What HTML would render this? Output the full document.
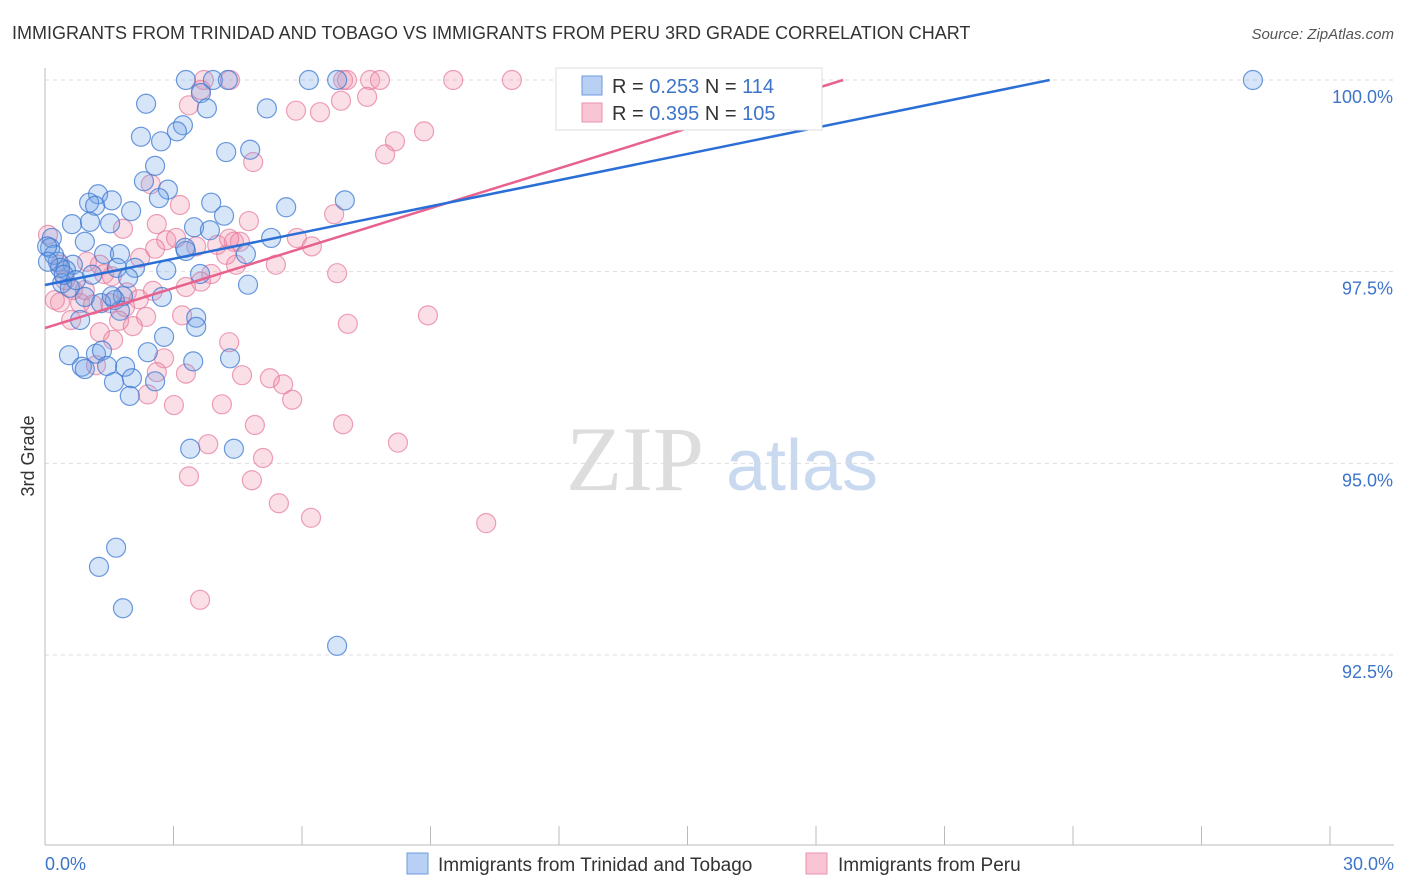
<!DOCTYPE html>
<html><head><meta charset="utf-8"><style>
body{margin:0;background:#fff;font-family:"Liberation Sans",sans-serif}
svg{display:block}
</style></head><body>
<svg id="chart" width="1406" height="892" xmlns="http://www.w3.org/2000/svg">
<text x="12" y="39" font-size="18" fill="#333">IMMIGRANTS FROM TRINIDAD AND TOBAGO VS IMMIGRANTS FROM PERU 3RD GRADE CORRELATION CHART</text>
<text x="1394" y="39" font-size="15" fill="#555" font-style="italic" text-anchor="end">Source: ZipAtlas.com</text>
<text x="34" y="456" font-size="18" fill="#333" text-anchor="middle" transform="rotate(-90 34 456)">3rd Grade</text>
<g><text x="635" y="490" font-size="92" fill="#ddd" font-family="Liberation Serif,serif" text-anchor="middle">ZIP</text><text x="802" y="490" font-size="72" fill="#c9daf0" text-anchor="middle">atlas</text></g>
<g id="grid"></g><g id="axes"></g><g id="pts"></g><g id="lines"></g>
<g>
<rect x="556" y="68" width="266" height="62" fill="#fff" stroke="#ddd"/>
<rect x="582" y="76" width="20" height="19" fill="#b7d0f3" stroke="#6d9be0"/>
<rect x="582" y="103" width="20" height="19" fill="#f9c5d5" stroke="#ea92b0"/>
<text x="612" y="93" font-size="20" fill="#333">R = <tspan fill="#3d74c9">0.253</tspan>   N =  <tspan fill="#3d74c9">114</tspan></text>
<text x="612" y="120" font-size="20" fill="#333">R = <tspan fill="#3d74c9">0.395</tspan>   N =  <tspan fill="#3d74c9">105</tspan></text>
</g>
<g>
<rect x="407" y="853" width="21" height="21" fill="#b7d0f3" stroke="#6d9be0"/>
<text x="438" y="871" font-size="19" fill="#333">Immigrants from Trinidad and Tobago</text>
<rect x="806" y="853" width="21" height="21" fill="#f9c5d5" stroke="#ea92b0"/>
<text x="838" y="871" font-size="19" fill="#333">Immigrants from Peru</text>
</g>
</svg>
<script>
const blueX=[3.29,3.92,4.27,6.16,6.82,28.2,2.36,3.64,3.78,5.18,3.22,3.08,2.24,2.71,4.23,4.79,2.57,2.31,2.87,1.24,1.56,1.03,1.17,2.66,3.88,5.63,7.00,2.01,4.18,0.63,1.05,1.52,3.48,3.85,0.16,0.93,1.38,1.75,3.29,5.28,4.69,3.27,0.12,0.30,0.65,0.49,1.68,2.10,2.83,3.62,1.10,0.40,4.74,0.58,0.93,1.82,2.73,1.63,1.31,3.53,3.53,0.82,1.75,2.78,0.56,1.19,1.33,2.40,4.32,3.46,0.86,0.93,1.45,1.87,2.03,2.57,1.61,1.98,3.39,4.41,1.66,1.26,1.82,6.82,0.21,0.05,0.35,0.44,0.07,0.72,1.56,1.94];
const blueY=[100,100,100,100,100,100,99.69,99.83,99.63,99.63,99.41,99.33,99.26,99.20,99.06,99.09,98.88,98.68,98.57,98.51,98.43,98.40,98.36,98.46,98.40,98.34,98.43,98.29,98.23,98.12,98.15,98.13,98.08,98.04,97.94,97.89,97.73,97.73,97.77,97.94,97.73,97.81,97.81,97.63,97.59,97.52,97.55,97.55,97.52,97.47,97.46,97.35,97.33,97.29,97.17,97.18,97.17,97.13,97.09,96.90,96.78,96.87,96.99,96.65,96.41,96.43,96.47,96.45,96.37,96.33,96.26,96.23,96.27,96.26,96.11,96.07,96.06,95.88,95.19,95.19,93.90,93.65,93.11,92.62,97.72,97.83,97.55,97.46,97.63,97.39,97.18,97.42];
const pinkX=[3.71,4.32,6.96,7.05,7.59,7.82,9.53,10.90,3.64,3.36,5.86,6.42,6.91,7.52,8.85,8.17,7.94,4.86,2.47,3.15,4.76,6.75,1.82,2.61,2.83,3.06,2.57,3.53,4.02,4.41,4.55,5.88,6.23,4.23,4.46,5.39,6.82,3.88,3.29,2.52,1.91,1.38,1.56,1.28,0.35,0.07,0.65,0.35,0.82,1.52,2.19,1.87,1.73,2.36,3.20,2.05,1.28,1.59,4.30,7.07,8.94,2.78,2.61,3.29,4.60,5.25,5.56,5.77,3.01,4.13,4.90,6.96,8.24,3.81,5.09,3.36,4.83,5.46,6.21,10.30,3.62,1.12,0.61,0.23,0.47,0.98,2.22,3.64,4.30,2.40,1.19,0.93];
const pinkY=[100,100,100,100,100,100,100,100,99.87,99.67,99.60,99.58,99.73,99.78,99.33,99.20,99.03,98.93,98.64,98.37,98.16,98.25,98.06,98.12,97.91,97.94,97.80,97.83,97.85,97.89,97.89,97.94,97.83,97.72,97.59,97.59,97.48,97.47,97.30,97.25,97.23,97.47,97.44,97.59,97.59,97.98,97.26,97.10,97.09,97.09,97.14,97.04,96.86,96.91,96.93,96.79,96.71,96.61,96.58,96.82,96.93,96.37,96.19,96.17,96.15,96.11,96.03,95.83,95.76,95.77,95.50,95.51,95.27,95.25,95.07,94.83,94.78,94.48,94.29,94.22,93.22,97.07,96.87,97.13,97.39,97.63,97.68,97.37,97.93,95.90,96.28,97.26];
const yTicks=[100,97.5,95,92.5];
const yTickLabels=["100.0%","97.5%","95.0%","92.5%"];
const xTicks=[0,3,6,9,12,15,18,21,24,27,30];
const blueLine=[97.326,0.114];
const pinkLine=[96.765,0.1736];

const NS="http://www.w3.org/2000/svg";
const X=v=>45+v*(1285/30);
const Y=v=>80+(100-v)*76.67;
function mk(tag,attrs,parent){const e=document.createElementNS(NS,tag);for(const k in attrs)e.setAttribute(k,attrs[k]);parent.appendChild(e);return e;}
const grid=document.getElementById('grid'),axes=document.getElementById('axes'),pts=document.getElementById('pts'),lines=document.getElementById('lines');
yTicks.forEach((t,i)=>{
 const l=mk('line',{x1:45,x2:1394,y1:Y(t),y2:Y(t),stroke:'#ddd','stroke-dasharray':'4,4'},grid);
 
 
 const tx=mk('text',{x:1393,y:Y(t)+23,'font-size':18,fill:'#3d74c9','text-anchor':'end'},axes);
 tx.textContent=yTickLabels[i];
 
 
});
const ya=mk('line',{x1:45,x2:45,y1:68,y2:845,stroke:'#bbb'},axes);


const xa=mk('line',{x1:45,x2:1394,y1:845,y2:845,stroke:'#bbb'},axes);


xTicks.forEach(t=>{
 const l=mk('line',{x1:X(t),x2:X(t),y1:826,y2:845,stroke:'#bbb'},axes);
 
 
});
const xl0=mk('text',{x:45,y:870,'font-size':18,fill:'#3d74c9'},axes);xl0.textContent='0.0%';


const xl1=mk('text',{x:1394,y:870,'font-size':18,fill:'#3d74c9','text-anchor':'end'},axes);xl1.textContent='30.0%';


function dots(xs,ys,fill,stroke,name){xs.forEach((x,i)=>{
 const c=mk('circle',{cx:X(x),cy:Y(ys[i]),r:9.5,fill:fill,stroke:stroke,'stroke-width':1.2},pts);
 
 
});}
dots(pinkX,pinkY,'rgba(240,140,170,0.28)','rgba(230,120,155,0.7)','peru-point');
dots(blueX,blueY,'rgba(110,160,230,0.28)','rgba(60,120,210,0.75)','trinidad-point');
function reg(p,color,name){
 const xEnd=Math.min(30,(100-p[0])/p[1]);
 const l=mk('line',{x1:X(0),y1:Y(p[0]),x2:X(xEnd),y2:Y(p[0]+p[1]*xEnd),stroke:color,'stroke-width':2.5},lines);
 
 
}
reg(pinkLine,'#e8628e','peru-trendline');
reg(blueLine,'#2b6fd6','trinidad-trendline');
</script>
</body></html>
